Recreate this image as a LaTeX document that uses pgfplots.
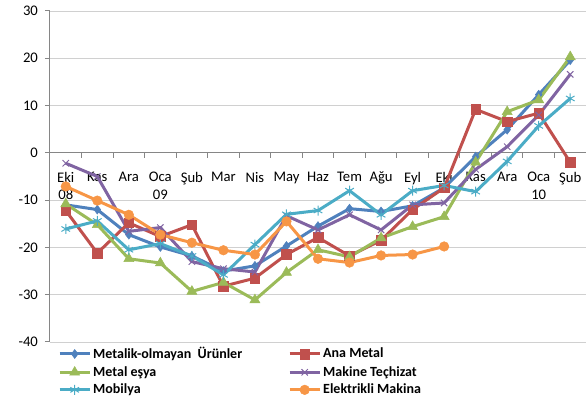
\documentclass[border=0pt]{standalone}
\usepackage{fontspec}
\setmainfont{Carlito}
\usepackage{pgfplots}
\pgfplotsset{compat=1.18}
\definecolor{cBlue}{HTML}{4F81BD}
\definecolor{cRed}{HTML}{C0504D}
\definecolor{cGreen}{HTML}{9BBB59}
\definecolor{cPurple}{HTML}{8064A2}
\definecolor{cTeal}{HTML}{4BACC6}
\definecolor{cOrange}{HTML}{F79646}
\definecolor{axisgray}{HTML}{868686}
\definecolor{gridgray}{HTML}{D0D0D0}
\begin{document}
\fontsize{14.67}{17.6}\selectfont
\begin{tikzpicture}
\begin{axis}[
  scale only axis, width=536pt, height=331pt,
  xmin=-0.5, xmax=16.5, ymin=-40, ymax=30,
  axis x line=middle, axis y line=left,
  axis line style={-, draw=axisgray, line width=1pt},
  hide obscured x ticks=false, hide obscured y ticks=false,
  xtick={-0.5,0.5,...,16.5},
  x tick label as interval,
  xticklabels={{Eki\\08},Kas,Ara,{Oca\\09},Şub,Mar,Nis,May,Haz,Tem,Ağu,Eyl,Eki,Kas,Ara,{Oca\\10},Şub},
  xticklabel style={align=center, anchor=north, yshift=-9pt},
  ytick={-40,-30,...,30},
  yticklabel style={xshift=-2pt},
  ymajorgrids, grid style={gridgray, line width=0.9pt},
  tick align=outside, major tick length=5pt,
  tick style={axisgray, line width=1pt},
  /pgf/number format/assume math mode=true,
  every axis plot/.append style={line width=3pt},
  legend columns=2,
  legend cell align=left,
  legend style={draw=none, fill=none, at={(axis description cs:0,0)}, anchor=north west,
    xshift=5pt, yshift=-1pt,
    font=\bfseries\fontsize{14}{16}\selectfont,
    /tikz/every even column/.append style={column sep=44pt},
    row sep=1.5pt},
  legend image code/.code={\draw[mark repeat=2,mark phase=2] plot coordinates {(0pt,0pt) (15pt,0pt) (30pt,0pt)};},
]
\addplot[cBlue, mark=diamond*, mark size=4.5pt, mark options={solid, line width=0.5pt}] coordinates {
(0,-11) (1,-12) (2,-17.3) (3,-19.9) (4,-21.8) (5,-25) (6,-23.9) (7,-19.7) (8,-15.5) (9,-11.8) (10,-12.4) (11,-11.2) (12,-7.4) (13,-0.8) (14,4.9) (15,12.3) (16,19.6)};
\addlegendentry{Metalik-olmayan\ \ Ürünler}
\addplot[cRed, mark=square*, mark size=4.8pt, mark options={solid, line width=0.5pt}] coordinates {
(0,-12.2) (1,-21.2) (2,-14.8) (3,-17.7) (4,-15.2) (5,-28.2) (6,-26.5) (7,-21.5) (8,-17.9) (9,-21.8) (10,-18.5) (11,-12) (12,-7.4) (13,9.2) (14,6.6) (15,8.4) (16,-2)};
\addlegendentry{Ana Metal}
\addplot[cGreen, mark=triangle*, mark size=5.8pt, mark options={solid, line width=0.5pt}] coordinates {
(0,-10.8) (1,-15.2) (2,-22.4) (3,-23.3) (4,-29.3) (5,-27.4) (6,-31.1) (7,-25.3) (8,-20.5) (9,-22) (10,-18) (11,-15.6) (12,-13.5) (13,-2) (14,8.7) (15,11.2) (16,20.3)};
\addlegendentry{Metal eşya}
\addplot[cPurple, mark=x, mark size=4.5pt, mark options={solid, line width=1pt}] coordinates {
(0,-2.2) (1,-5) (2,-16.6) (3,-15.8) (4,-23) (5,-24.5) (6,-25.2) (7,-13.3) (8,-16.3) (9,-13.1) (10,-16.3) (11,-11) (12,-10.6) (13,-3.5) (14,1.3) (15,8) (16,16.6)};
\addlegendentry{Makine Teçhizat}
\addplot[cTeal, mark=asterisk, mark size=5pt, mark options={solid, line width=1pt}] coordinates {
(0,-16.1) (1,-14.4) (2,-20.5) (3,-19.2) (4,-21.8) (5,-25.8) (6,-19.4) (7,-13) (8,-12.2) (9,-8) (10,-13.1) (11,-8) (12,-6.9) (13,-8.2) (14,-1.8) (15,5.7) (16,11.5)};
\addlegendentry{Mobilya}
\addplot[cOrange, mark=*, mark size=4.8pt, mark options={solid, line width=0.5pt}] coordinates {
(0,-7.1) (1,-10.1) (2,-13.1) (3,-17.3) (4,-19) (5,-20.6) (6,-21.5) (7,-14.5) (8,-22.4) (9,-23.2) (10,-21.7) (11,-21.5) (12,-19.8)};
\addlegendentry{Elektrikli Makina}
\end{axis}
\pgfresetboundingbox
\path ([shift={(-50pt,-61pt)}]current axis.south west) rectangle ([shift={(0pt,11pt)}]current axis.north east);
\end{tikzpicture}
\end{document}
